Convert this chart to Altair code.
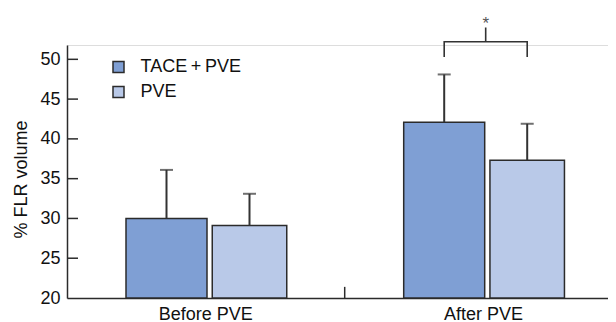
import altair as alt
import pandas as pd

# ---- data ----
groups = ["Before PVE", "After PVE"]
series = ["TACE\u2009+\u2009PVE", "PVE"]
tace_mean = [30.0, 42.1]
tace_sd = [6.1, 6.0]
pve_mean = [29.1, 37.3]
pve_sd = [4.0, 4.6]
colors = ["#7f9fd4", "#b9c9e8"]
y_tick_values = [20, 25, 30, 35, 40, 45, 50]
inner_ticks = [25, 30, 35, 40, 45, 50]
bracket_low = 50.3
bracket_high = 52.2
stem_top = 54.0
sig_label = "*"
y_title = "% FLR volume"

rows = []
for i, g in enumerate(groups):
    rows.append({"group": g, "series": series[0], "value": tace_mean[i], "upper": tace_mean[i] + tace_sd[i]})
    rows.append({"group": g, "series": series[1], "value": pve_mean[i], "upper": pve_mean[i] + pve_sd[i]})
df = pd.DataFrame(rows)

bracket_df = pd.DataFrame({
    "group": [groups[1]] * 4,
    "series": [series[0], series[0], series[1], series[1]],
    "value": [bracket_low, bracket_high, bracket_high, bracket_low],
    "order": [0, 1, 2, 3],
})
stem_df = pd.DataFrame({"group": [groups[1]], "value": [bracket_high], "upper": [stem_top], "label": [sig_label]})
ytick_df = pd.DataFrame({"value": inner_ticks})
xtick_df = pd.DataFrame({"group": [groups[1]], "value": [20.0], "upper": [21.4]})

FONT = "Liberation Sans"
DARK = "#2b2b2b"

xscale = alt.Scale(domain=groups, range=[0, 555.4], paddingInner=0, paddingOuter=0)
xaxis = alt.Axis(title=None, ticks=False, tickSize=0, labelPadding=7, labelFontSize=18,
                 labelAngle=0, labelColor="#111", labelFont=FONT, domainColor=DARK, domainWidth=1.5, grid=False)
yscale = alt.Scale(domain=[20, 51.8], nice=False, zero=False)
yaxis = alt.Axis(title=y_title, values=y_tick_values, ticks=False, tickSize=0, labelPadding=7,
                 labelFontSize=18, labelColor="#111", labelFont=FONT, domainColor=DARK, domainWidth=1.5,
                 grid=False, titleFontSize=18, titleFontWeight="normal", titleFont=FONT, titleColor="#111",
                 titleX=-41, titleY=134, titleBaseline="alphabetic")
xoff = alt.XOffset("series:N", sort=series,
                   scale=alt.Scale(domain=series, range=[58, 224], paddingInner=0, paddingOuter=0))

x_enc = alt.X("group:N", sort=groups, scale=xscale, axis=xaxis)
y_enc = alt.Y("value:Q", scale=yscale, axis=yaxis)
color_enc = alt.Color("series:N", sort=series, scale=alt.Scale(domain=series, range=colors),
                      legend=alt.Legend(title=None, orient="none", legendX=42.5, legendY=13,
                                        symbolType="square", symbolSize=121, symbolStrokeColor=DARK,
                                        symbolStrokeWidth=1.5, labelFontSize=18, labelFont=FONT,
                                        labelColor="#111", labelOffset=13, rowPadding=7))

base = alt.Chart(df)

bar_tace = base.transform_filter(alt.datum.series == series[0]).mark_bar(
    width=81, stroke=DARK, strokeWidth=1.5).encode(
    x=x_enc, xOffset=xoff, y=y_enc, y2=alt.datum(20), color=color_enc)
bar_pve = base.transform_filter(alt.datum.series == series[1]).mark_bar(
    width=74.5, stroke=DARK, strokeWidth=1.5).encode(
    x=x_enc, xOffset=xoff, y=y_enc, y2=alt.datum(20), color=color_enc)

err_rule = base.mark_rule(color="#333", strokeWidth=2).encode(
    x=x_enc, xOffset=xoff, y=y_enc, y2="upper:Q")
err_cap = base.mark_tick(color="#333", thickness=2, size=13).encode(
    x=x_enc, xOffset=xoff, y=alt.Y("upper:Q", scale=yscale, axis=yaxis))

bracket = alt.Chart(bracket_df).mark_line(color="#333", strokeWidth=1.6).encode(
    x=x_enc, xOffset=xoff, y=y_enc, order="order:Q")
stem = alt.Chart(stem_df).mark_rule(color="#333", strokeWidth=1.6).encode(
    x=alt.X("group:N", sort=groups, scale=xscale, axis=xaxis, bandPosition=0.5077),
    y=y_enc, y2="upper:Q")
star = alt.Chart(stem_df).mark_text(fontSize=17, font=FONT, color="#555", baseline="alphabetic", dy=2).encode(
    x=alt.X("group:N", sort=groups, scale=xscale, axis=xaxis, bandPosition=0.5077),
    y=alt.Y("upper:Q", scale=yscale, axis=yaxis), text="label:N")

ytick = alt.Chart(ytick_df).mark_rule(color=DARK, strokeWidth=1.5).encode(
    x=alt.value(0), x2=alt.value(11), y=y_enc)
xtick = alt.Chart(xtick_df).mark_rule(color=DARK, strokeWidth=1.5).encode(
    x=alt.X("group:N", sort=groups, scale=xscale, axis=xaxis, bandPosition=0),
    y=y_enc, y2="upper:Q")

chart = alt.layer(bar_tace, bar_pve, err_rule, err_cap, bracket, stem, star, ytick, xtick).properties(
    width=541, height=253,
    padding={"left": 59, "top": 37, "right": 0, "bottom": 24},
    autosize=alt.AutoSizeParams(type="none"),
).configure_view(stroke=None).configure(background="white")

chart.save("out.html", embed_options={"renderer": "svg", "actions": False})
